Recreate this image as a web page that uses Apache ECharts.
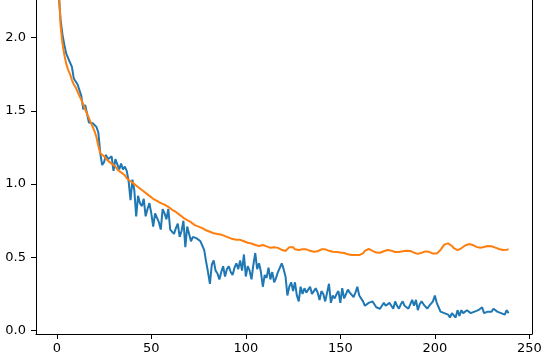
<!DOCTYPE html>
<html>
<head>
<meta charset="utf-8">
<script src="https://cdn.jsdelivr.net/npm/echarts@6/dist/echarts.min.js"></script>
<style>
html,body{margin:0;padding:0;background:#fff;}
#chart{width:551px;height:355px;}
</style>
</head>
<body>
<div id="chart"></div>
<script>
// Series values, indexed by epoch 0..239
const trainLoss = [
2.80,2.30,2.12,2.02,1.95,1.89,1.86,1.85,1.80,1.72,
1.70,1.68,1.64,1.60,1.51,1.54,1.48,1.42,1.41,1.415,
1.41,1.39,1.35,1.21,1.13,1.15,1.20,1.17,1.16,1.19,
1.09,1.17,1.18,1.10,1.14,1.10,1.12,1.09,1.02,0.89,
1.03,0.96,0.78,0.92,0.87,0.85,0.90,0.78,0.83,0.87,
0.80,0.71,0.80,0.79,0.74,0.69,0.83,0.80,0.76,0.83,
0.69,0.70,0.66,0.70,0.73,0.64,0.68,0.75,0.57,0.71,
0.66,0.61,0.64,0.64,0.63,0.64,0.61,0.60,0.55,0.47,
0.40,0.32,0.45,0.48,0.41,0.39,0.35,0.40,0.44,0.37,
0.42,0.44,0.40,0.38,0.43,0.46,0.42,0.48,0.41,0.52,
0.37,0.44,0.41,0.35,0.45,0.53,0.42,0.46,0.40,0.30,
0.38,0.36,0.43,0.35,0.40,0.33,0.36,0.40,0.41,0.46,
0.42,0.37,0.24,0.30,0.33,0.27,0.33,0.24,0.20,0.30,
0.25,0.29,0.26,0.28,0.30,0.25,0.27,0.29,0.26,0.21,
0.27,0.25,0.20,0.26,0.32,0.19,0.24,0.22,0.25,0.27,
0.19,0.29,0.22,0.25,0.28,0.26,0.25,0.23,0.26,0.30,
0.24,0.24,0.20,0.17,0.17,0.19,0.18,0.20,0.18,0.16,
0.17,0.15,0.17,0.19,0.17,0.16,0.19,0.17,0.15,0.20,
0.17,0.15,0.18,0.20,0.17,0.18,0.15,0.18,0.21,0.17,
0.21,0.14,0.18,0.20,0.18,0.17,0.15,0.17,0.17,0.20,
0.24,0.19,0.16,0.13,0.13,0.12,0.11,0.11,0.09,0.12,
0.13,0.09,0.14,0.10,0.14,0.12,0.13,0.14,0.13,0.12,
0.13,0.13,0.12,0.14,0.13,0.16,0.12,0.11,0.13,0.14,
0.13,0.15,0.14,0.13,0.13,0.12,0.11,0.11,0.14,0.12
];
const valLoss = [
2.90,2.35,2.08,1.96,1.88,1.82,1.78,1.75,1.71,1.68,
1.66,1.63,1.60,1.575,1.54,1.51,1.48,1.45,1.42,1.39,
1.36,1.32,1.26,1.21,1.20,1.19,1.18,1.16,1.15,1.14,
1.13,1.12,1.10,1.09,1.08,1.07,1.06,1.04,1.03,1.02,
1.01,1.00,0.99,0.98,0.97,0.96,0.95,0.94,0.93,0.92,
0.91,0.90,0.89,0.885,0.88,0.87,0.865,0.86,0.855,0.845,
0.835,0.825,0.815,0.81,0.80,0.79,0.78,0.77,0.76,0.755,
0.745,0.74,0.73,0.72,0.715,0.71,0.705,0.70,0.69,0.685,
0.68,0.675,0.67,0.665,0.665,0.66,0.66,0.655,0.65,0.645,
0.64,0.635,0.63,0.625,0.625,0.62,0.62,0.62,0.615,0.61,
0.605,0.60,0.60,0.595,0.59,0.585,0.58,0.578,0.58,0.585,
0.584,0.575,0.566,0.566,0.568,0.57,0.569,0.565,0.56,0.552,
0.546,0.544,0.55,0.57,0.58,0.57,0.555,0.55,0.55,0.552,
0.555,0.556,0.555,0.55,0.545,0.54,0.538,0.539,0.542,0.55,
0.555,0.556,0.555,0.55,0.545,0.54,0.539,0.538,0.537,0.535,
0.533,0.532,0.53,0.526,0.522,0.518,0.516,0.516,0.516,0.515,
0.516,0.518,0.528,0.545,0.556,0.559,0.555,0.545,0.537,0.533,
0.532,0.532,0.535,0.542,0.548,0.55,0.55,0.546,0.54,0.537,
0.536,0.537,0.539,0.542,0.544,0.545,0.545,0.544,0.538,0.532,
0.527,0.524,0.526,0.532,0.538,0.541,0.542,0.538,0.531,0.526,
0.525,0.527,0.535,0.55,0.57,0.587,0.595,0.596,0.59,0.578,
0.564,0.554,0.55,0.553,0.562,0.572,0.581,0.588,0.591,0.59,
0.585,0.578,0.572,0.568,0.566,0.567,0.571,0.575,0.578,0.578,
0.576,0.572,0.567,0.562,0.557,0.553,0.55,0.55,0.553,0.555
];
// Tick labels
const xTicks = [0, 50, 100, 150, 200, 250];
const yTicks = [0.0, 0.5, 1.0, 1.5, 2.0];

const toPairs = arr => arr.map((v, i) => [i, v]);

const chart = echarts.init(document.getElementById('chart'), null, {renderer: 'canvas'});
const labelFont = {color: '#000', fontSize: 13, fontFamily: 'DejaVu Sans'};
chart.setOption({
  animation: false,
  grid: {left: 36, right: 19, top: 0, bottom: 21, containLabel: false},
  xAxis: {
    type: 'value', min: -11, max: 251.4,
    splitLine: {show: false},
    axisLine: {show: true, onZero: false, lineStyle: {color: '#000', width: 1}},
    axisTick: {show: true, length: 5, lineStyle: {color: '#000', width: 1}, customValues: xTicks},
    axisLabel: Object.assign({margin: 8, customValues: xTicks, formatter: v => String(v)}, labelFont)
  },
  yAxis: [{
    type: 'value', min: -0.0225, max: 2.256,
    splitLine: {show: false},
    axisLine: {show: true, onZero: false, lineStyle: {color: '#000', width: 1}},
    axisTick: {show: true, length: 5, lineStyle: {color: '#000', width: 1}, customValues: yTicks},
    axisLabel: Object.assign({margin: 10, customValues: yTicks, formatter: v => v.toFixed(1)}, labelFont)
  }, {
    type: 'value', position: 'right', min: -0.0225, max: 2.256,
    splitLine: {show: false},
    axisLine: {show: true, onZero: false, lineStyle: {color: '#000', width: 1}},
    axisTick: {show: false}, axisLabel: {show: false}
  }],
  series: [{
    type: 'line', data: toPairs(trainLoss), showSymbol: false, symbol: 'none',
    lineStyle: {color: '#1f77b4', width: 2}, itemStyle: {color: '#1f77b4'}, z: 2
  }, {
    type: 'line', data: toPairs(valLoss), showSymbol: false, symbol: 'none',
    lineStyle: {color: '#ff7f0e', width: 2}, itemStyle: {color: '#ff7f0e'}, z: 3
  }]
});
</script>
</body>
</html>
